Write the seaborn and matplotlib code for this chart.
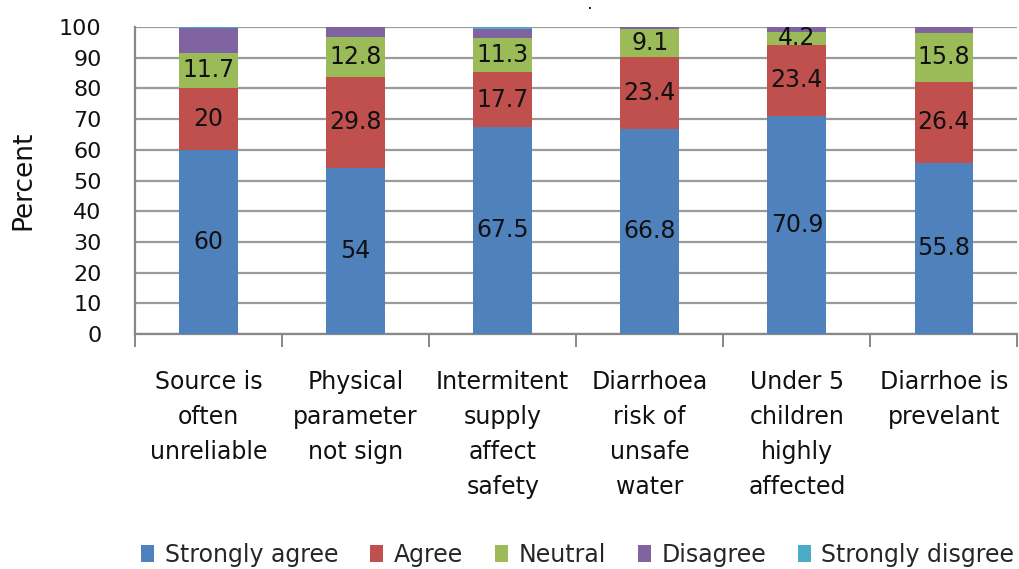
import matplotlib
matplotlib.use("Agg")
import matplotlib.pyplot as plt
import seaborn as sns
import numpy as np
import pandas as pd
from matplotlib.patches import Patch

categories = [
    "Source is\noften\nunreliable",
    "Physical\nparameter\nnot sign",
    "Intermitent\nsupply\naffect\nsafety",
    "Diarrhoea\nrisk of\nunsafe\nwater",
    "Under 5\nchildren\nhighly\naffected",
    "Diarrhoe is\nprevelant",
]
strongly_agree = [60, 54, 67.5, 66.8, 70.9, 55.8]
agree = [20, 29.8, 17.7, 23.4, 23.4, 26.4]
neutral = [11.7, 12.8, 11.3, 9.1, 4.2, 15.8]
disagree = [8.0, 3.4, 3.0, 0.7, 1.5, 2.0]
strongly_disagree = [0.3, 0.0, 0.5, 0.0, 0.0, 0.0]

series_names = ["Strongly agree", "Agree", "Neutral", "Disagree", "Strongly disgree"]
colors = ["#4F81BD", "#C0504D", "#9BBB59", "#8064A2", "#4BACC6"]
series = [strongly_agree, agree, neutral, disagree, strongly_disagree]

sns.set_theme(style="white")
plt.rcParams["font.family"] = ["DejaVu Sans"]

fig = plt.figure(figsize=(10.19, 5.69), dpi=100)
ax = fig.add_axes([0.1325, 0.413, 0.866, 0.5395])

cum = np.cumsum(np.array(series), axis=0)
# Draw cumulative totals from the top layer down so each stack shows every segment
for i in range(len(series) - 1, -1, -1):
    df = pd.DataFrame({"cat": categories, "val": cum[i]})
    sns.barplot(data=df, x="cat", y="val", color=colors[i], saturation=1,
                width=0.4, ax=ax, zorder=3, linewidth=0)

# Value labels for the three main segments
for i in range(3):
    bottoms = cum[i] - np.array(series[i])
    for j, v in enumerate(series[i]):
        ax.text(j, bottoms[j] + v / 2, f"{v:g}", ha="center", va="center",
                fontsize=17, color="#111111", zorder=5)

ax.set_ylim(0, 100)
ax.set_xlim(-0.5, 5.5)
ax.set_yticks(range(0, 101, 10))
ax.tick_params(axis="y", labelsize=16, length=0, left=False, pad=24,
               labelcolor="#111111")
ax.yaxis.grid(True, color="#9a9a9a", linewidth=1.6, zorder=0)
ax.set_axisbelow(True)

ax.set_xticks(range(len(categories)))
ax.set_xticklabels(categories, fontsize=17, linespacing=1.58, va="top",
                   color="#111111")
ax.set_xticks(np.arange(-0.5, 6.0, 1.0), minor=True)
ax.tick_params(axis="x", which="major", length=0, pad=26)
ax.tick_params(axis="x", which="minor", length=9, width=1.4, color="#888888",
               bottom=True)

ax.set_xlabel("")
ax.set_ylabel("Percent", fontsize=19, labelpad=16, color="#111111")

for s in ["top", "right"]:
    ax.spines[s].set_visible(False)
for s in ["left", "bottom"]:
    ax.spines[s].set_color("#888888")
    ax.spines[s].set_linewidth(1.6)

fig.text(0.579, 0.984, ".", fontsize=7, fontweight="bold", ha="center",
         va="baseline", color="#111111")

handles = [Patch(facecolor=c, edgecolor="none") for c in colors]
fig.legend(handles, series_names, loc="center", bbox_to_anchor=(0.567, 0.025),
           ncol=5, frameon=False, fontsize=17, handlelength=0.55, handleheight=0.7,
           handletextpad=0.45, columnspacing=1.35)

fig.savefig("out.png", dpi=100)
